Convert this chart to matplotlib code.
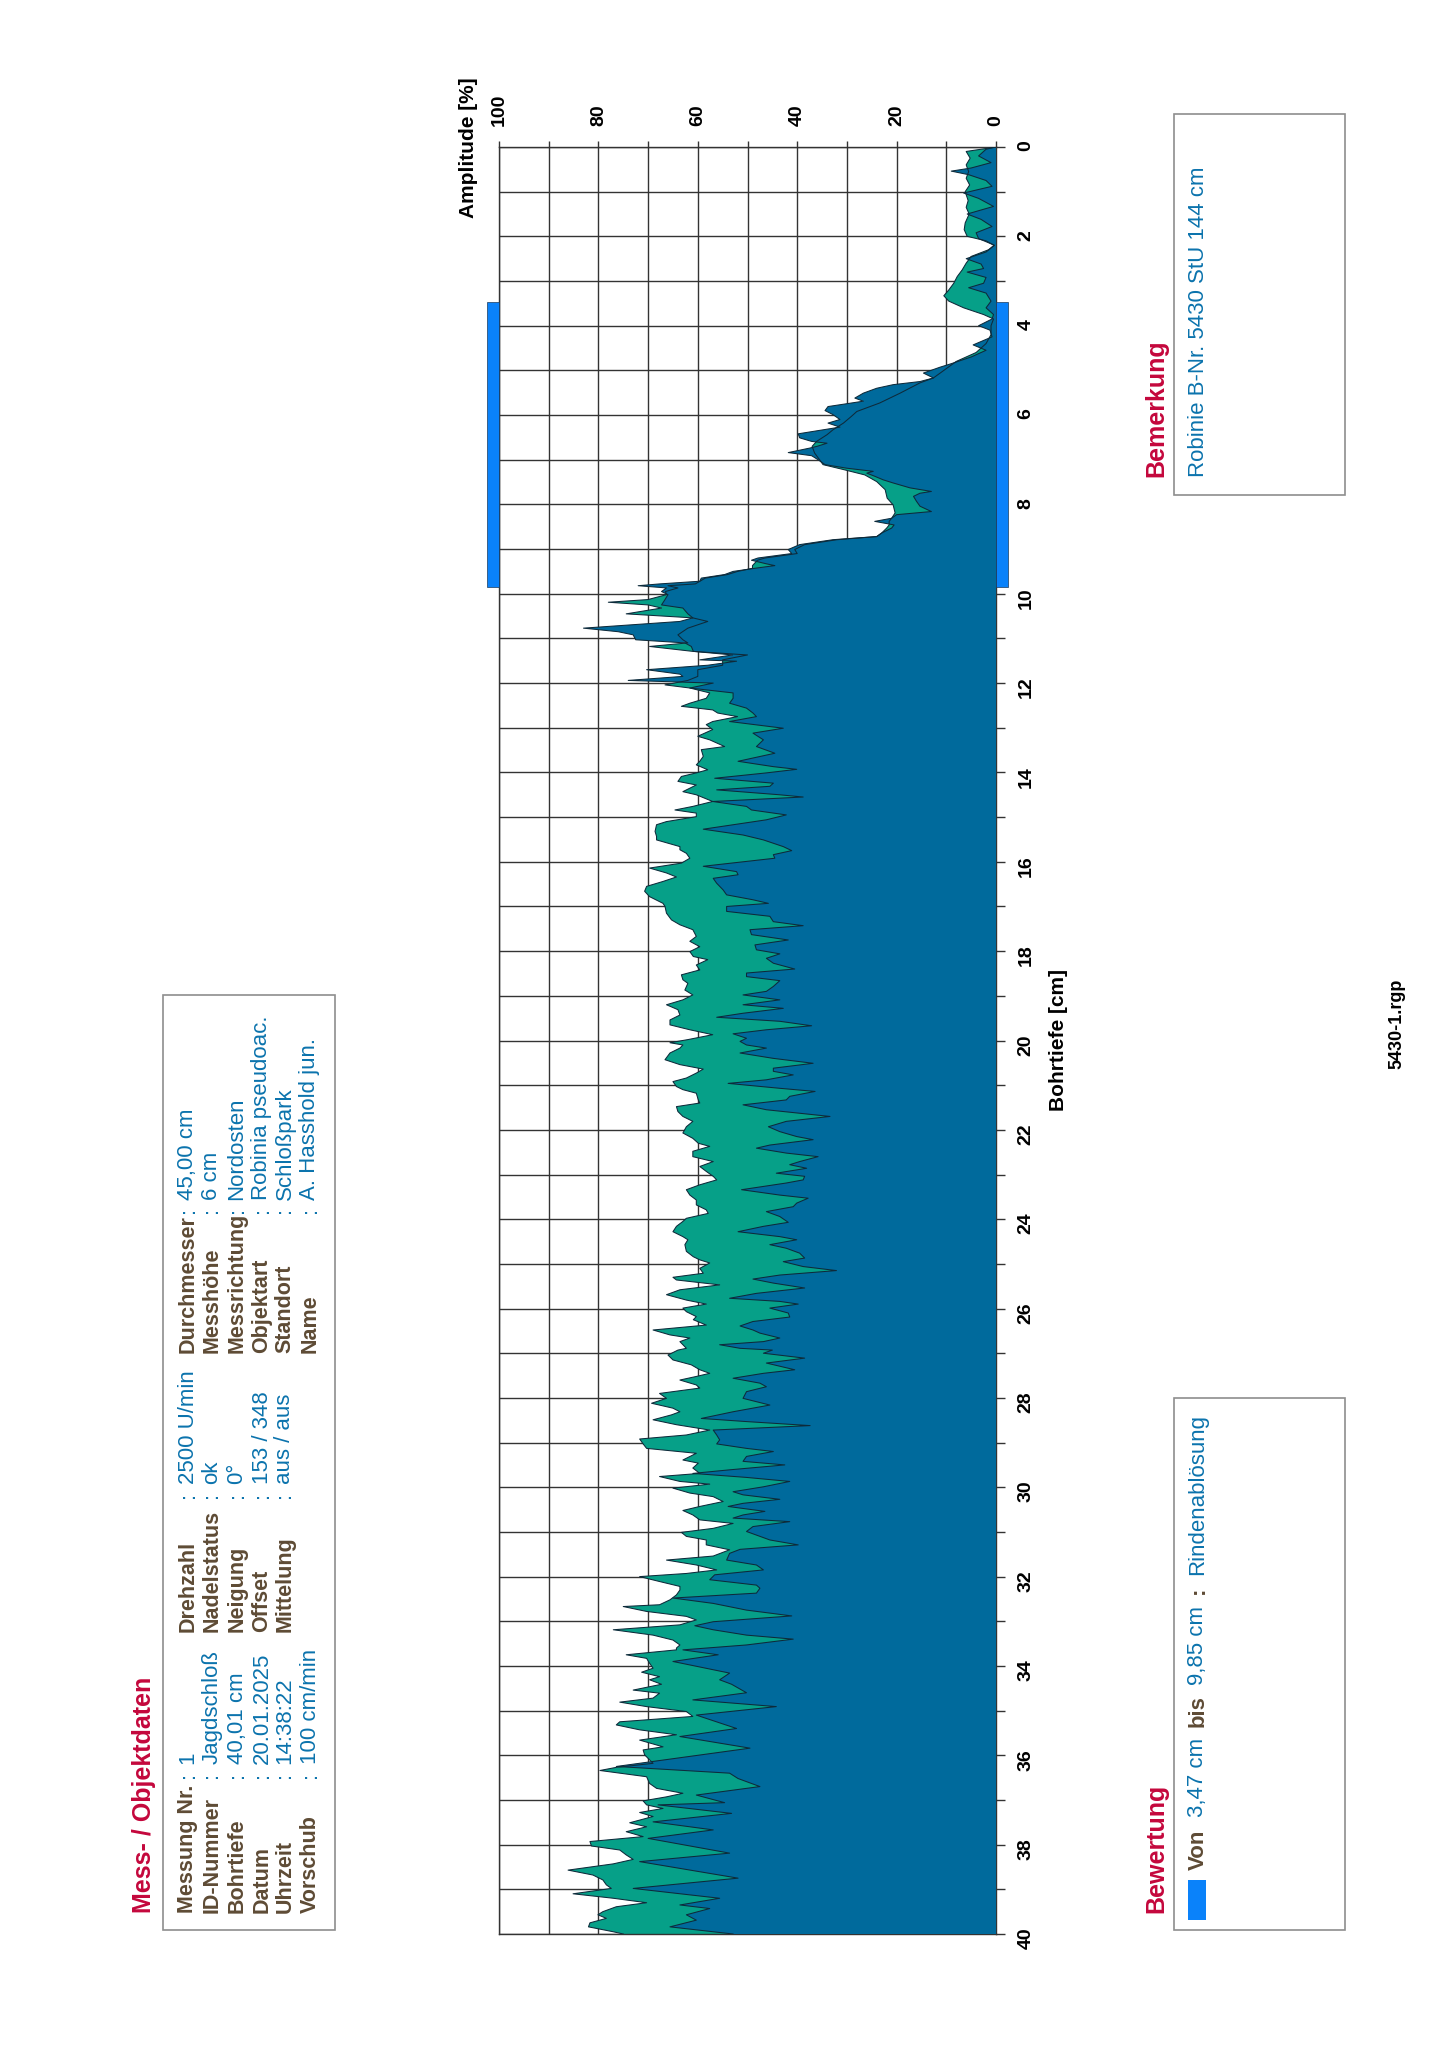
import matplotlib
matplotlib.use("Agg")
import matplotlib.pyplot as plt
from matplotlib.patches import Rectangle
from matplotlib.ticker import MultipleLocator

plt.rcParams['font.family'] = ['Liberation Sans', 'DejaVu Sans']

# ---------------- data ----------------
green_depth = [0.0, 0.1, 0.25, 0.4, 0.55, 0.7, 0.85, 1.0, 1.2, 1.35, 1.5, 1.7, 1.85, 2.0, 2.1, 2.2, 2.3, 2.45, 2.6, 2.75,
               2.9, 3.05, 3.2, 3.33, 3.45, 3.6, 3.75, 3.85, 4.0, 4.2, 4.4, 4.6, 4.8, 5.0, 5.17, 5.28, 5.51, 5.73, 5.92, 6.03,
               6.18, 6.33, 6.44, 6.59, 6.70, 6.85, 7.0, 7.11, 7.22, 7.34, 7.49, 7.67, 7.86, 8.01, 8.19, 8.31, 8.38, 8.46, 8.53, 8.64,
               8.72, 8.79, 8.90, 9.01, 9.10, 9.20, 9.25, 9.37, 9.43, 9.50, 9.57, 9.65, 9.72, 9.78,
               9.82, 9.87, 9.95, 10.02, 10.13, 10.19, 10.25, 10.32, 10.45, 10.54, 10.62, 10.77, 10.92, 11.03, 11.10, 11.18, 11.29, 11.37, 11.48, 11.60,
               11.70, 11.85, 11.94, 12.04, 12.11, 12.22, 12.34, 12.45, 12.52, 12.60, 12.67, 12.75, 12.86, 12.93, 13.04, 13.19, 13.27, 13.42, 13.49, 13.64,
               13.75, 13.83, 13.94, 14.01, 14.09, 14.20, 14.28, 14.43, 14.50, 14.65, 14.76, 14.84, 14.91, 14.99, 15.10, 15.17, 15.32, 15.43, 15.51, 15.66,
               15.73, 15.81, 15.92, 16.03, 16.14, 16.25, 16.34, 16.44, 16.55, 16.66, 16.78, 16.93, 17.00, 17.15, 17.30, 17.41, 17.52, 17.67, 17.78, 17.90,
               18.01, 18.12, 18.19, 18.31, 18.42, 18.53, 18.64, 18.72, 18.87, 18.98, 19.09, 19.20, 19.31, 19.43, 19.54, 19.65, 19.76, 19.87, 19.98, 20.05,
               20.10, 20.17, 20.28, 20.43, 20.54, 20.64, 20.73, 20.84, 20.92, 21.03, 21.10, 21.18, 21.33, 21.40, 21.48, 21.59, 21.70, 21.81, 21.93, 22.07,
               22.19, 22.30, 22.37, 22.48, 22.60, 22.71, 22.82, 22.93, 23.04, 23.12, 23.23, 23.34, 23.46, 23.57, 23.68, 23.79, 23.87, 23.98, 24.05, 24.16,
               24.28, 24.39, 24.46, 24.57, 24.72, 24.84, 24.91, 24.98, 25.10, 25.21, 25.30, 25.36, 25.47, 25.58, 25.69, 25.81, 25.90, 25.99, 26.07, 26.18,
               26.25, 26.37, 26.48, 26.59, 26.66, 26.74, 26.81, 26.89, 26.93, 27.04, 27.15, 27.26, 27.37, 27.45, 27.52, 27.60, 27.71, 27.78, 27.90, 28.01,
               28.12, 28.23, 28.31, 28.38, 28.49, 28.60, 28.72, 28.83, 28.92, 29.03, 29.13, 29.24, 29.39, 29.46, 29.57, 29.69, 29.76, 29.87, 29.93, 30.02,
               30.13, 30.21, 30.32, 30.43, 30.52, 30.62, 30.73, 30.81, 30.92, 31.01, 31.10, 31.18, 31.29, 31.40, 31.54, 31.63, 31.74, 31.85, 31.93, 32.00,
               32.11, 32.22, 32.30, 32.41, 32.52, 32.63, 32.67, 32.78, 32.89, 32.97, 33.08, 33.19, 33.31, 33.42, 33.53, 33.60, 33.64, 33.75, 33.83, 33.94,
               34.05, 34.14, 34.24, 34.31, 34.41, 34.54, 34.61, 34.72, 34.81, 34.91, 35.02, 35.13, 35.25, 35.32, 35.43, 35.54, 35.66, 35.81, 35.88, 35.99,
               36.10, 36.18, 36.27, 36.34, 36.48, 36.63, 36.74, 36.85, 36.93, 37.02, 37.11, 37.19, 37.28, 37.37, 37.51, 37.60, 37.71, 37.82, 37.93, 38.03,
               38.12, 38.23, 38.33, 38.43, 38.57, 38.68, 38.79, 38.90, 38.98, 39.10, 39.20, 39.30, 39.39, 39.50, 39.57, 39.65, 39.75, 39.84, 39.95, 40.0]
green_amp = [0.0, 6.0, 5.2, 6.0, 5.5, 6.0, 5.3, 6.2, 5.6, 6.0, 5.4, 6.2, 6.4, 5.8, 2.0, 0.4, 1.5, 5.0, 6.0, 6.8,
             7.8, 8.5, 9.5, 10.5, 9.5, 6.5, 2.5, 0.5, 1.0, 1.0, 2.0, 4.0, 8.0, 10.5, 12.6, 15.3, 19.3, 23.4, 28.0, 29.1,
             30.7, 32.8, 34.0, 36.1, 37.0, 36.5, 35.5, 34.8, 30.7, 26.4, 24.0, 22.3, 21.9, 20.7, 20.3, 21.0, 21.5, 21.5, 22.0, 23.0,
             24.0, 32.0, 38.5, 40.5, 40.0, 46.5, 48.0, 49.0, 49.0, 52.0, 54.0, 58.5, 59.6, 60.5,
             66.0, 64.0, 66.5, 66.3, 70.0, 78.0, 70.0, 67.3, 74.4, 61.0, 58.0, 62.0, 64.0, 63.0, 62.0, 69.7, 61.0, 50.0, 55.0, 55.0,
             60.0, 60.0, 62.0, 66.6, 61.6, 57.6, 58.3, 61.6, 63.3, 57.0, 56.0, 52.0, 57.0, 58.3, 57.0, 60.0, 57.6, 54.6, 59.3, 58.9,
             59.6, 60.3, 58.0, 60.3, 63.3, 64.0, 60.3, 63.0, 60.3, 57.0, 61.0, 64.6, 60.3, 60.3, 66.3, 68.3, 68.6, 68.3, 68.3, 63.6,
             63.6, 62.3, 61.6, 63.3, 69.7, 66.3, 64.3, 67.0, 70.3, 70.7, 69.7, 67.0, 66.6, 66.3, 65.3, 63.6, 61.0, 60.3, 61.6, 59.6,
             61.6, 60.9, 58.0, 60.3, 59.6, 63.3, 63.0, 62.0, 62.6, 61.0, 63.0, 66.3, 64.0, 63.6, 65.6, 65.6, 61.6, 57.0, 62.0, 65.6,
             63.0, 63.6, 65.6, 66.6, 63.6, 58.9, 60.3, 62.3, 65.0, 64.3, 63.0, 60.3, 59.9, 59.6, 64.3, 64.0, 63.0, 61.0, 62.3, 63.0,
             61.0, 59.9, 57.6, 61.0, 61.0, 56.9, 59.6, 58.3, 56.9, 56.2, 59.6, 62.3, 61.6, 60.3, 60.3, 58.3, 57.9, 62.3, 63.0, 64.3,
             65.0, 63.0, 62.0, 62.6, 62.3, 60.9, 59.6, 57.6, 59.6, 58.9, 65.0, 64.3, 55.6, 63.6, 66.3, 62.3, 58.3, 63.0, 62.3, 60.3,
             60.9, 58.3, 69.0, 65.6, 61.6, 63.6, 63.0, 62.3, 64.0, 66.0, 65.0, 61.3, 59.6, 57.6, 60.3, 63.6, 60.3, 59.6, 67.7, 66.3,
             69.3, 65.0, 63.6, 65.3, 69.0, 64.3, 57.6, 62.3, 71.7, 71.0, 70.3, 60.3, 63.0, 59.9, 61.0, 59.6, 67.7, 63.6, 57.6, 65.0,
             61.6, 56.9, 54.9, 59.6, 63.0, 61.0, 59.6, 52.9, 56.9, 63.3, 62.3, 58.3, 58.3, 53.6, 56.9, 66.3, 60.3, 56.2, 62.3, 71.7,
             67.7, 63.6, 63.6, 64.3, 65.6, 67.7, 75.0, 70.3, 62.3, 60.3, 63.6, 77.0, 69.0, 65.0, 63.6, 64.3, 64.3, 74.4, 70.3, 69.7,
             69.0, 71.3, 67.7, 69.7, 67.3, 73.0, 67.7, 69.0, 75.7, 70.3, 62.3, 61.0, 75.7, 76.4, 71.7, 64.3, 71.7, 67.0, 71.0, 70.7,
             69.7, 69.0, 76.4, 79.7, 70.3, 69.7, 68.3, 63.0, 66.3, 71.0, 70.3, 67.0, 71.7, 69.0, 73.7, 70.3, 74.4, 71.0, 81.7, 81.4,
             75.7, 74.4, 73.0, 77.0, 86.1, 81.1, 79.1, 78.4, 77.4, 85.1, 77.0, 70.3, 76.4, 79.1, 80.1, 78.4, 81.7, 82.0, 77.0, 75.0]

blue_depth = [0.0, 0.05, 0.2, 0.35, 0.47, 0.54, 0.62, 0.75, 0.88, 1.03, 1.15, 1.33, 1.5, 1.62, 1.78, 1.92, 2.05, 2.2, 2.35, 2.5,
              2.62, 2.72, 2.8, 2.92, 3.05, 3.15, 3.27, 3.45, 3.6, 3.75, 3.85, 4.0, 4.1, 4.25, 4.43, 4.55, 4.7, 4.85, 4.93, 5.06,
              5.17, 5.25, 5.32, 5.40, 5.51, 5.62, 5.69, 5.81, 5.90, 5.99, 6.10, 6.18, 6.27, 6.42, 6.51, 6.59, 6.63, 6.70, 6.74, 6.84,
              6.91, 7.0, 7.11, 7.19, 7.26, 7.30, 7.37, 7.45, 7.52, 7.63, 7.71, 7.75, 7.82, 7.93, 8.04, 8.16, 8.23, 8.31, 8.38, 8.46,
              8.53, 8.64, 8.72, 8.79, 8.90, 9.01, 9.10,
              9.20, 9.25, 9.33, 9.37, 9.43, 9.50, 9.57, 9.65, 9.72, 9.78, 9.82, 9.87, 9.95, 10.02, 10.13, 10.25, 10.32, 10.45, 10.54, 10.62,
              10.77, 10.85, 10.92, 11.03, 11.10, 11.18, 11.29, 11.37, 11.48, 11.51, 11.60, 11.70, 11.80, 11.85, 11.94, 12.0, 12.11, 12.22, 12.34, 12.45,
              12.56, 12.67, 12.75, 12.86, 13.01, 13.12, 13.27, 13.42, 13.57, 13.75, 13.87, 13.93, 14.01, 14.13, 14.24, 14.31, 14.39, 14.50, 14.55, 14.65,
              14.76, 14.84, 14.95, 15.06, 15.27, 15.40, 15.51, 15.66, 15.75, 15.84, 15.92, 16.10, 16.22, 16.29, 16.37, 16.48, 16.63, 16.74, 16.85, 16.93,
              17.00, 17.11, 17.22, 17.34, 17.43, 17.52, 17.63, 17.75, 17.86, 17.97, 18.06, 18.16, 18.27, 18.40, 18.49, 18.57, 18.66, 18.79, 18.90, 18.98,
              19.09, 19.20, 19.28, 19.39, 19.48, 19.57, 19.67, 19.76, 19.85, 19.95, 20.02, 20.10, 20.17, 20.28, 20.40, 20.51, 20.62, 20.69, 20.77, 20.88,
              20.96, 21.07, 21.14, 21.25, 21.33, 21.44, 21.55, 21.70, 21.81, 21.93, 22.04, 22.15, 22.22, 22.34, 22.41, 22.52, 22.60, 22.71, 22.78, 22.86,
              22.97, 23.04, 23.12, 23.19, 23.34, 23.46, 23.53, 23.64, 23.72, 23.83, 23.94, 24.07, 24.16, 24.28, 24.39, 24.46, 24.57, 24.65, 24.76, 24.87,
              24.95, 25.06, 25.15, 25.25, 25.34, 25.43, 25.54, 25.66, 25.77, 25.84, 25.90, 25.99, 26.10, 26.19, 26.29, 26.39, 26.48, 26.55, 26.66, 26.74,
              26.81, 26.89, 26.93, 27.0, 27.11, 27.22, 27.37, 27.45, 27.56, 27.67, 27.75, 27.86, 28.01, 28.16, 28.31, 28.46, 28.53, 28.62, 28.72, 28.83,
              28.94, 29.03, 29.13, 29.20, 29.31, 29.42, 29.50, 29.61, 29.69, 29.78, 29.87, 29.99, 30.10, 30.17, 30.27, 30.36, 30.43, 30.54, 30.62, 30.69,
              30.77, 30.88, 30.99, 31.07, 31.18, 31.29, 31.39, 31.48, 31.63, 31.74, 31.85, 31.96, 32.07, 32.19, 32.26, 32.37, 32.48, 32.60, 32.75, 32.88,
              33.01, 33.10, 33.19, 33.31, 33.40, 33.53, 33.64, 33.75, 33.90, 34.16, 34.31, 34.41, 34.60, 34.76, 34.91, 35.10, 35.40, 35.58, 35.84, 36.25,
              36.40, 36.52, 36.70, 36.89, 37.06, 37.11, 37.30, 37.49, 37.67, 37.86, 38.19, 38.38, 38.75, 38.98, 39.20, 39.35, 39.43, 39.57, 39.69, 39.84,
              40.0]
blue_amp = [0.0, 2.0, 3.5, 1.0, 5.0, 9.0, 5.5, 2.0, 0.8, 6.5, 3.5, 0.5, 5.8, 3.0, 0.8, 4.0, 3.5, 0.3, 2.0, 6.0,
            3.0, 2.5, 5.8, 2.0, 2.5, 5.5, 2.0, 1.0, 2.0, 0.5, 0.8, 3.5, 1.2, 0.8, 4.6, 2.0, 5.0, 9.0, 11.3, 14.6,
            12.6, 15.3, 20.7, 24.0, 26.7, 28.4, 26.7, 33.8, 34.4, 32.8, 31.4, 33.8, 31.4, 39.8, 39.5, 37.1, 34.0, 36.0, 37.5, 41.8,
            37.1, 35.8, 34.4, 30.0, 24.7, 26.0, 24.4, 22.7, 20.7, 17.3, 13.0, 15.3, 16.6, 16.0, 15.3, 13.0, 20.0, 21.0, 24.4, 20.5,
            21.0, 23.0, 24.0, 32.8, 39.5, 41.8, 41.1,
            47.9, 49.2, 46.2, 44.5, 48.5, 52.9, 54.6, 59.3, 59.6, 67.7, 72.0, 66.3, 67.3, 66.0, 66.6, 67.3, 63.0, 62.0, 61.0, 63.6,
            83.0, 76.0, 73.0, 72.5, 62.6, 61.3, 60.9, 53.0, 59.6, 52.2, 58.0, 70.3, 63.6, 63.0, 74.0, 56.9, 61.6, 52.9, 52.9, 53.6,
            50.2, 48.9, 48.2, 53.6, 42.8, 48.9, 46.8, 48.2, 44.5, 51.9, 44.8, 40.1, 46.2, 56.6, 44.8, 45.5, 56.2, 43.5, 38.8, 57.0,
            50.2, 49.2, 42.2, 46.2, 58.9, 50.9, 46.8, 42.8, 41.1, 44.8, 44.5, 58.9, 52.2, 51.9, 56.9, 56.2, 54.9, 54.2, 48.9, 45.8,
            54.2, 54.2, 45.5, 44.8, 38.8, 49.5, 49.2, 41.8, 48.5, 48.2, 43.5, 46.2, 44.8, 40.5, 50.2, 50.2, 43.5, 44.8, 46.2, 50.9,
            43.5, 50.9, 42.8, 50.9, 56.2, 43.5, 37.1, 46.2, 52.9, 50.2, 51.5, 50.2, 46.2, 51.5, 44.8, 36.8, 44.8, 44.8, 40.8, 46.2,
            53.9, 43.5, 36.4, 41.5, 42.2, 50.9, 46.2, 33.4, 42.2, 45.8, 43.5, 40.1, 36.8, 45.5, 48.2, 42.2, 35.8, 39.5, 41.5, 38.1,
            44.2, 38.5, 38.8, 42.2, 51.2, 43.5, 37.8, 40.1, 40.8, 46.2, 43.5, 41.8, 46.8, 51.9, 43.5, 40.1, 45.5, 42.2, 39.5, 38.5,
            42.8, 38.8, 32.1, 43.5, 48.9, 44.8, 38.5, 48.2, 53.6, 43.5, 39.8, 45.5, 41.8, 41.5, 48.9, 51.5, 48.9, 47.5, 43.5, 46.8,
            55.6, 51.5, 45.0, 46.8, 38.5, 46.2, 40.5, 46.8, 52.9, 47.5, 46.2, 50.2, 50.9, 45.5, 52.9, 59.3, 50.2, 37.4, 56.9, 56.2,
            55.6, 56.2, 50.2, 44.8, 50.2, 50.9, 42.5, 53.6, 61.0, 50.2, 41.5, 46.8, 52.9, 50.9, 43.5, 50.9, 53.9, 46.5, 50.9, 52.9,
            41.5, 48.9, 50.2, 48.2, 45.5, 39.8, 51.5, 53.6, 54.2, 48.2, 46.8, 56.6, 57.6, 48.2, 47.5, 48.2, 65.0, 56.9, 50.2, 41.1,
            56.9, 60.6, 56.9, 50.2, 40.8, 50.2, 63.0, 55.9, 65.0, 53.6, 55.6, 53.2, 50.2, 61.0, 44.2, 60.3, 52.2, 63.6, 49.5, 76.4,
            53.6, 51.9, 47.5, 60.3, 54.6, 68.0, 53.2, 69.0, 56.9, 70.0, 53.6, 71.7, 51.9, 73.0, 55.6, 63.6, 57.6, 62.3, 60.3, 65.6,
            52.9]

assert len(green_depth) == len(green_amp)
assert len(blue_depth) == len(blue_amp)

amp_ticks = [0, 20, 40, 60, 80, 100]
depth_ticks = list(range(0, 41, 2))
bewertung_from = 3.47
bewertung_to = 9.85
bewertung_text = "Rindenablösung"

info_col1_labels = ["Messung Nr.", "ID-Nummer", "Bohrtiefe", "Datum", "Uhrzeit", "Vorschub"]
info_col1_values = ["1", "Jagdschloß", "40,01 cm", "20.01.2025", "14:38:22", "100 cm/min"]
info_col2_labels = ["Drehzahl", "Nadelstatus", "Neigung", "Offset", "Mittelung"]
info_col2_values = ["2500 U/min", "ok", "0°", "153 / 348", "aus / aus"]
info_col3_labels = ["Durchmesser", "Messhöhe", "Messrichtung", "Objektart", "Standort", "Name"]
info_col3_values = ["45,00 cm", "6 cm", "Nordosten", "Robinia pseudoac.", "Schloßpark", "A. Hasshold jun."]
remark_text = "Robinie B-Nr. 5430 StU 144 cm"
file_name = "5430-1.rgp"

# ---------------- styling ----------------
C_GREEN = "#06A088"
C_BLUE = "#006A9C"
C_EDGE = "#0E2A3A"
C_BAR = "#0A82FA"
C_GRID = "#333333"
C_RED = "#C4073C"
C_BROWN = "#5E4B35"
C_VAL = "#0B73AD"
C_BOX = "#8E8E8E"

W, H = 1448, 2048
fig = plt.figure(figsize=(W / 100, H / 100), dpi=100)
fig.patch.set_facecolor("white")


def fx(x):
    return x / W


def fy(y):
    return 1 - y / H


def vtext(x, y, s, size, color, weight="normal"):
    fig.text(fx(x), fy(y), s, rotation=90, rotation_mode="anchor", ha="left", va="center",
             fontsize=size, color=color, fontweight=weight)


def box(x0, y0, x1, y1):
    fig.add_artist(Rectangle((fx(x0), fy(y1)), fx(x1) - fx(x0), fy(y0) - fy(y1),
                             transform=fig.transFigure, fill=False, edgecolor=C_BOX, lw=1.2))


# ---------------- main plot ----------------
ax = fig.add_axes([fx(499), fy(1934), fx(996) - fx(499), fy(147) - fy(1934)])
ax.set_xlim(100, 0)
ax.set_ylim(40, 0)
ax.set_axisbelow(True)
ax.grid(which="both", color=C_GRID, lw=1.0)
for sp in ax.spines.values():
    sp.set_color(C_GRID)
    sp.set_linewidth(1.0)

# filled areas first, curve outlines on top
ax.fill_betweenx(green_depth, 0, green_amp, facecolor=C_GREEN, edgecolor="none", zorder=2)
ax.fill_betweenx(blue_depth, 0, blue_amp, facecolor=C_BLUE, edgecolor="none", zorder=3)
ax.plot(green_amp, green_depth, color=C_EDGE, lw=0.75, zorder=4)
ax.plot(blue_amp, blue_depth, color=C_EDGE, lw=0.75, zorder=4)

ax.xaxis.tick_top()
ax.yaxis.tick_right()
ax.set_xticks(amp_ticks)
ax.set_xticklabels([str(t) for t in amp_ticks], rotation=90, fontsize=14, fontweight="bold")
ax.xaxis.set_minor_locator(MultipleLocator(10))
ax.set_yticks(depth_ticks)
ax.set_yticklabels([str(t) for t in depth_ticks], rotation=90, fontsize=14, fontweight="bold")
ax.yaxis.set_minor_locator(MultipleLocator(1))
ax.tick_params(axis="x", which="both", length=4.2, width=1.0, color=C_GRID, pad=11)
ax.tick_params(axis="y", which="both", length=6.5, width=1.0, color=C_GRID, pad=9)

# Bewertung bars next to the plot
ax.add_patch(Rectangle((100, bewertung_from), 2.4, bewertung_to - bewertung_from, facecolor=C_BAR,
                       edgecolor="#1a3a5a", lw=0.5, clip_on=False, zorder=5))
ax.add_patch(Rectangle((0, bewertung_from), -2.4, bewertung_to - bewertung_from, facecolor=C_BAR,
                       edgecolor="#1a3a5a", lw=0.5, clip_on=False, zorder=5))

fig.text(fx(468), fy(148), "Amplitude [%]", rotation=90, ha="center", va="center",
         fontsize=15, fontweight="bold", color="black")
fig.text(fx(1059), fy(1040), "Bohrtiefe [cm]", rotation=90, ha="center", va="center",
         fontsize=15, fontweight="bold", color="black")

# ---------------- info box ----------------
vtext(144, 1913, "Mess- / Objektdaten", 18, C_RED, "bold")
box(163, 995, 335, 1930)
rows_x = [188, 212, 237, 262, 285, 310]
for i, (lab, val) in enumerate(zip(info_col1_labels, info_col1_values)):
    vtext(rows_x[i], 1913, lab, 15.5, C_BROWN, "bold")
    vtext(rows_x[i], 1778, ":", 15.5, C_VAL)
    vtext(rows_x[i], 1764, val, 16, C_VAL)
for i, (lab, val) in enumerate(zip(info_col2_labels, info_col2_values)):
    vtext(rows_x[i], 1632, lab, 15.5, C_BROWN, "bold")
    vtext(rows_x[i], 1498, ":", 15.5, C_VAL)
    vtext(rows_x[i], 1484, val, 16, C_VAL)
for i, (lab, val) in enumerate(zip(info_col3_labels, info_col3_values)):
    vtext(rows_x[i], 1353, lab, 15.5, C_BROWN, "bold")
    vtext(rows_x[i], 1213, ":", 15.5, C_VAL)
    vtext(rows_x[i], 1200, val, 16, C_VAL)

# ---------------- Bemerkung ----------------
vtext(1156, 477, "Bemerkung", 18, C_RED, "bold")
box(1174, 114, 1345, 495)
vtext(1198, 477, remark_text, 16, C_VAL)

# ---------------- Bewertung ----------------
vtext(1156, 1913, "Bewertung", 18, C_RED, "bold")
box(1174, 1398, 1345, 1930)
fig.add_artist(Rectangle((fx(1188), fy(1920)), fx(1206) - fx(1188), fy(1880) - fy(1920),
                         transform=fig.transFigure, facecolor=C_BAR, edgecolor="none"))


def cm(v):
    return ("%.2f" % v).replace(".", ",") + " cm"


vtext(1198, 1870, "Von", 16, C_BROWN, "bold")
vtext(1198, 1817, cm(bewertung_from), 16, C_VAL)
vtext(1198, 1727, "bis", 16, C_BROWN, "bold")
vtext(1198, 1685, cm(bewertung_to), 16, C_VAL)
vtext(1198, 1594, ":", 16, C_BROWN, "bold")
vtext(1198, 1575, bewertung_text, 16, C_VAL)

fig.text(fx(1397), fy(1024), file_name, rotation=90, ha="center", va="center",
         fontsize=13, fontweight="bold", color="black")

fig.savefig("out.png", dpi=100, facecolor="white")
